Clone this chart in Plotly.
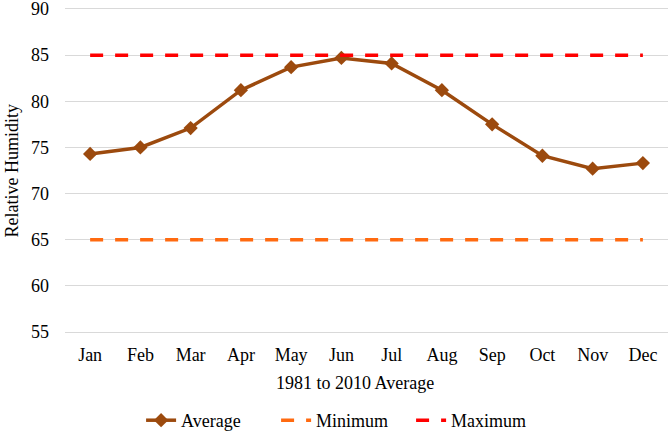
import plotly.graph_objects as go

months = ["Jan", "Feb", "Mar", "Apr", "May", "Jun", "Jul", "Aug", "Sep", "Oct", "Nov", "Dec"]
average = [74.3, 75.0, 77.1, 81.2, 83.7, 84.7, 84.1, 81.2, 77.5, 74.1, 72.7, 73.3]
minimum = [65] * 12
maximum = [85] * 12
y_ticks = [55, 60, 65, 70, 75, 80, 85, 90]

FONT = "Liberation Serif, Times New Roman, serif"
FS = 18

fig = go.Figure()
fig.add_trace(go.Scatter(
    x=months, y=average, name="Average", mode="lines+markers",
    line=dict(color="#9C4A0E", width=3.5),
    marker=dict(symbol="diamond", size=11, color="#9C4A0E"),
))
fig.add_trace(go.Scatter(
    x=months, y=minimum, name="Minimum", mode="lines",
    line=dict(color="#FF6A10", width=3.5, dash="13px,12px"),
))
fig.add_trace(go.Scatter(
    x=months, y=maximum, name="Maximum", mode="lines",
    line=dict(color="#FF0000", width=3.5, dash="13px,12px"),
))

fig.update_layout(
    template="none",
    width=670, height=432,
    margin=dict(l=65, r=2, t=9, b=100, autoexpand=False),
    paper_bgcolor="white", plot_bgcolor="white",
    font=dict(family=FONT, size=FS, color="#000000"),
    showlegend=True,
    legend=dict(orientation="h", x=0.462, xanchor="center", y=-0.274, yanchor="middle",
                font=dict(family=FONT, size=FS), tracegroupgap=0, entrywidth=90),
    xaxis=dict(
        type="category", showgrid=False, showline=True, mirror=True,
        linecolor="#D9D9D9", linewidth=1,
        ticks="", ticklabelstandoff=6, tickfont=dict(family=FONT, size=FS),
        range=[-0.5, 11.5], automargin=False, ticklabeloverflow="allow",
    ),
    yaxis=dict(
        range=[55, 90], tickvals=y_ticks, showgrid=True, gridcolor="#D9D9D9", gridwidth=1,
        zeroline=False, showline=False, ticks="", ticklabelstandoff=15,
        tickfont=dict(family=FONT, size=FS), automargin=False, ticklabeloverflow="allow",
    ),
    annotations=[
        dict(text="1981 to 2010 Average", xref="paper", yref="paper",
             x=0.481, y=-0.157, xanchor="center", yanchor="middle", showarrow=False,
             font=dict(family=FONT, size=FS)),
        dict(text="Relative Humidity", xref="paper", yref="paper", textangle=-90,
             x=-0.088, y=0.5, xanchor="center", yanchor="middle", showarrow=False,
             font=dict(family=FONT, size=FS)),
    ],
)

fig.write_html("out.html", config={"displayModeBar": False},
               post_script="document.body.style.margin='0';")
